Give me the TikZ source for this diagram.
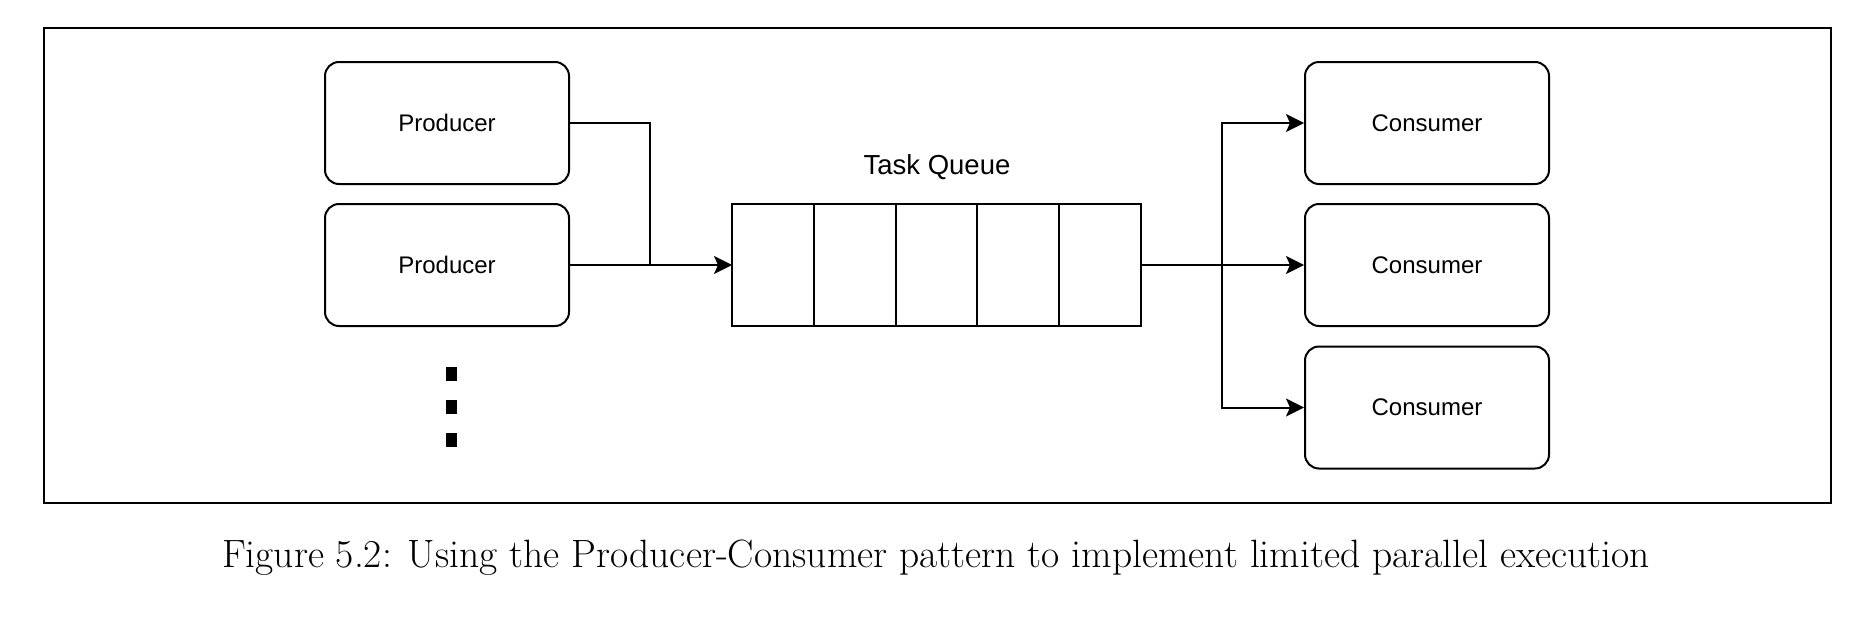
\documentclass[tikz,border=0pt]{standalone}
\usepackage{fontspec}
\newfontfamily\boxfont{Liberation Sans}
\usepackage{tikz}
\usetikzlibrary{arrows.meta}

\tikzset{
  worker/.style={draw, line width=2pt, rounded corners=14pt, minimum width=244pt,
    minimum height=122pt, font=\boxfont\fontsize{24}{28}\selectfont},
  link/.style={line width=2pt},
  feed/.style={link, -{Stealth[length=18pt,width=18pt,inset=4pt]}},
}

\begin{document}
\begin{tikzpicture}[x=1pt,y=-1pt]
\useasboundingbox (0,0) rectangle (1860,616);
% outline
\draw[line width=2.5pt] (44,28) rectangle (1831,503);
% producers
\node[worker] (prodA) at (447,123) {Producer};
\node[worker] (prodB) at (447,265) {Producer};
\foreach \y in {374,407,440}
  \fill (446,\y-7) rectangle (457,\y+7);
% queue
\node[draw, line width=2pt, outer sep=0pt, minimum width=409pt, minimum height=122pt] (queue) at (936.5,265) {};
\foreach \i in {1,...,4}
  \draw[link] ([xshift=81.8pt*\i]queue.north west) -- ([xshift=81.8pt*\i]queue.south west);
\node[font=\boxfont\fontsize{27.5}{32}\selectfont] (qname) at (937,167) {Task Queue};
% consumers
\node[worker] (consA) at (1427,123) {Consumer};
\node[worker] (consB) at (1427,265) {Consumer};
\node[worker] (consC) at (1427,407.5) {Consumer};
% links
\coordinate (merge) at (650,265);
\coordinate (split) at (1222,265);
\draw[link] (prodA.east) -| (merge);
\draw[feed] (prodB.east) -- (queue.west);
\draw[feed] (queue.east) -- (consB.west);
\draw[feed] (split) |- (consA.west);
\draw[feed] (split) |- (consC.west);
% caption
\node[font=\fontsize{39.5}{46}\selectfont] (caption) at (936,558)
  {Figure 5.2: Using the Producer-Consumer pattern to implement limited parallel execution};
\end{tikzpicture}
\end{document}
